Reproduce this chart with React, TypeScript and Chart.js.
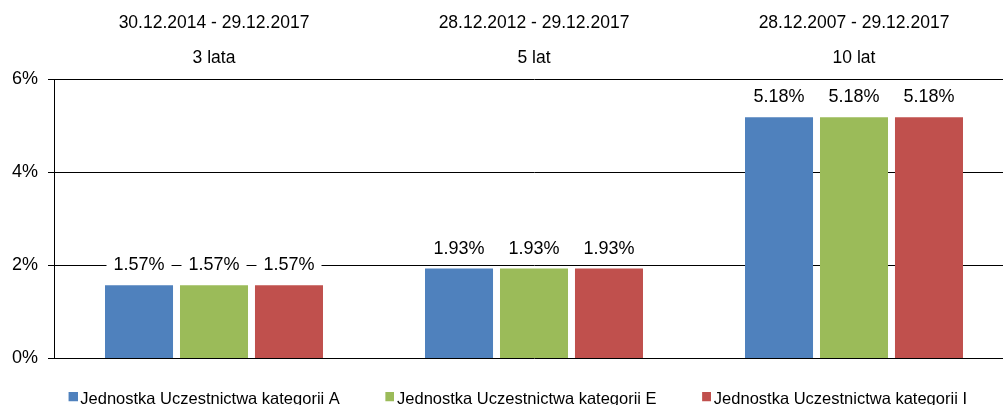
import React, { useEffect, useRef } from "react";
import { Chart, registerables } from "chart.js";

Chart.register(...registerables);

const periodLabels = ["30.12.2014 - 29.12.2017", "28.12.2012 - 29.12.2017", "28.12.2007 - 29.12.2017"];
const periodNames = ["3 lata", "5 lat", "10 lat"];
const seriesNames = [
  "Jednostka Uczestnictwa kategorii A",
  "Jednostka Uczestnictwa kategorii E",
  "Jednostka Uczestnictwa kategorii I",
];
const valuesA = [1.57, 1.93, 5.18];
const valuesE = [1.57, 1.93, 5.18];
const valuesI = [1.57, 1.93, 5.18];
const seriesColors = ["#4F81BD", "#9BBB59", "#C0504D"];
const yTicks = [0, 2, 4, 6];

const FONT = "'Liberation Sans', Arial, sans-serif";

function makeMarker(color: string) {
  const c = document.createElement("canvas");
  c.width = 12;
  c.height = 15;
  const g = c.getContext("2d")!;
  g.fillStyle = color;
  g.fillRect(3, 0, 9, 9);
  return c;
}

const labelPlugin = {
  id: "barLabels",
  afterLayout(chart: any) {
    const lg = chart.legend;
    if (lg) {
      lg.left += 12;
      lg.right += 12;
      lg.top -= 15;
      lg.bottom -= 15;
    }
  },
  afterDatasetsDraw(chart: any) {
    const ctx = chart.ctx;
    ctx.save();
    ctx.font = `18px ${FONT}`;
    ctx.textAlign = "center";
    ctx.textBaseline = "middle";
    chart.data.datasets.forEach((ds: any, di: number) => {
      const meta = chart.getDatasetMeta(di);
      meta.data.forEach((bar: any, i: number) => {
        const txt = ds.data[i].toFixed(2) + "%";
        const w = ctx.measureText(txt).width;
        const cy = bar.y - 20;
        ctx.fillStyle = "#ffffff";
        ctx.fillRect(bar.x - w / 2 - 7, cy - 11, w + 14, 22);
        ctx.fillStyle = "#000000";
        ctx.fillText(txt, bar.x, cy);
      });
    });
    ctx.restore();
  },
};

export default function App() {
  const ref = useRef<HTMLCanvasElement>(null);
  useEffect(() => {
    if (!ref.current) return;
    const markers = seriesColors.map(makeMarker);
    const chart = new Chart(ref.current, {
      type: "bar",
      data: {
        labels: periodLabels.map((p, i) => [p, periodNames[i]]),
        datasets: [valuesA, valuesE, valuesI].map((d, i) => ({
          label: seriesNames[i],
          data: d,
          backgroundColor: seriesColors[i],
          borderWidth: 0,
          categoryPercentage: 0.703,
          barPercentage: 0.907,
        })),
      },
      options: {
        animation: false,
        responsive: false,
        maintainAspectRatio: false,
        layout: { padding: { left: 0, right: 6, top: 3, bottom: 0 } },
        plugins: {
          legend: {
            position: "bottom",
            labels: {
              boxWidth: 1,
              boxHeight: 9,
              usePointStyle: true,
              padding: 48,
              color: "#000",
              font: { family: FONT, size: 16.5 },
              generateLabels: (chart: any) => {
                const items = Chart.defaults.plugins.legend.labels.generateLabels(chart);
                return items.map((it: any, i: number) => ({ ...it, pointStyle: markers[i] }));
              },
            },
          },
          tooltip: { enabled: false },
        },
        scales: {
          x: {
            position: "top",
            grid: { display: false, drawTicks: false },
            border: { display: false },
            ticks: {
              color: "#000",
              font: { family: FONT, size: 17.5, lineHeight: 2 },
              padding: 3,
              maxRotation: 0,
            },
          },
          y: {
            min: 0,
            max: 6,
            afterBuildTicks: (axis: any) => {
              axis.ticks = yTicks.map((v) => ({ value: v }));
            },
            afterFit: (axis: any) => {
              axis.width = 54;
            },
            grid: {
              color: "#000",
              lineWidth: 1,
              tickLength: 6,
              drawTicks: true,
            },
            border: { display: true, color: "#000", width: 1 },
            ticks: {
              color: "#000",
              font: { family: FONT, size: 18 },
              padding: 10,
              callback: (v: any) => v + "%",
            },
          },
        },
      },
      plugins: [labelPlugin],
    });
    return () => chart.destroy();
  }, []);
  return (
    <div style={{ position: "fixed", left: 0, top: 0, width: 1003, height: 405, overflow: "hidden", background: "#fff" }}>
      <canvas ref={ref} width={1020} height={433} style={{ display: "block" }} />
    </div>
  );
}
